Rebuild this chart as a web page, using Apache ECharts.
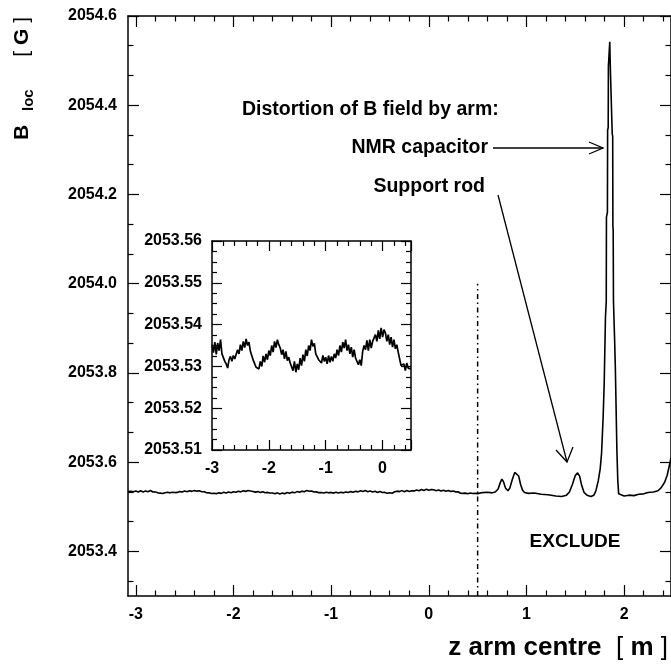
<!DOCTYPE html>
<html>
<head>
<meta charset="utf-8">
<script src="https://cdn.jsdelivr.net/npm/echarts@6/dist/echarts.min.js"></script>
<style>
html, body { margin: 0; padding: 0; background: #fff; }
#chart { width: 671px; height: 665px; }
</style>
</head>
<body>
<div id="chart"></div>
<script>
// field scan left of the exclude cut: z from -3.0 m in steps of 0.025 m
const scanStart = -3.0;
const scanStep = 0.025;
const scanField = [
    2053.5352, 2053.5333, 2053.5358, 2053.5329, 2053.5356, 2053.5338, 2053.5364, 2053.5330,
    2053.5334, 2053.5312, 2053.5306, 2053.5296,
    2053.5316, 2053.5324, 2053.5312, 2053.5326, 2053.5318, 2053.5322,
    2053.5340, 2053.5330, 2053.5352, 2053.5338, 2053.5360, 2053.5345, 2053.5366, 2053.5350,
    2053.5358, 2053.5336, 2053.5338, 2053.5315, 2053.5312, 2053.5298,
    2053.5302, 2053.5294, 2053.5312, 2053.5300,
    2053.5325, 2053.5310, 2053.5330, 2053.5316, 2053.5338, 2053.5326,
    2053.5350, 2053.5334, 2053.5360, 2053.5345, 2053.5364, 2053.5352,
    2053.5344, 2053.5328, 2053.5340, 2053.5318, 2053.5336, 2053.5314, 2053.5322, 2053.5308,
    2053.5310, 2053.5290, 2053.5312, 2053.5286, 2053.5306, 2053.5292,
    2053.5320, 2053.5302, 2053.5328, 2053.5312, 2053.5340, 2053.5325, 2053.5350, 2053.5338,
    2053.5364, 2053.5348, 2053.5355, 2053.5330, 2053.5334, 2053.5316,
    2053.5320, 2053.5308, 2053.5326, 2053.5312, 2053.5322, 2053.5306, 2053.5326, 2053.5310, 2053.5324, 2053.5312,
    2053.5330, 2053.5320, 2053.5340, 2053.5326, 2053.5350, 2053.5334, 2053.5358, 2053.5344,
    2053.5364, 2053.5338, 2053.5352, 2053.5330, 2053.5346, 2053.5322, 2053.5340, 2053.5320,
    2053.5322, 2053.5304, 2053.5316, 2053.5302,
    2053.5336, 2053.5350, 2053.5340, 2053.5362, 2053.5338, 2053.5364, 2053.5344, 2053.5360,
    2053.5356, 2053.5376, 2053.5360, 2053.5386, 2053.5366, 2053.5392, 2053.5370, 2053.5388,
    2053.5380, 2053.5360, 2053.5376, 2053.5352, 2053.5370, 2053.5346, 2053.5364, 2053.5342,
    2053.5352, 2053.5334, 2053.5336, 2053.5302, 2053.5300, 2053.5306, 2053.5290, 2053.5308, 2053.5296, 2053.5300,
    2053.5294
];

// a few readings left of -3 m, shown only on the main plot: [z, B]
const leadIn = [[-3.08, 2053.5340], [-3.05, 2053.5346], [-3.025, 2053.5336]];

// distortion region right of the cut: [z, B]
const armField = [
    [0.55, 2053.5318], [0.60, 2053.5325], [0.65, 2053.5312], [0.68, 2053.5330],
    [0.71, 2053.540], [0.73, 2053.553], [0.748, 2053.562], [0.765, 2053.556],
    [0.785, 2053.542], [0.81, 2053.536], [0.83, 2053.542], [0.855, 2053.561],
    [0.88, 2053.577], [0.90, 2053.579], [0.92, 2053.569], [0.94, 2053.550],
    [0.96, 2053.537], [0.98, 2053.532], [1.02, 2053.530], [1.08, 2053.531],
    [1.15, 2053.528], [1.22, 2053.527], [1.30, 2053.524], [1.36, 2053.523],
    [1.41, 2053.526], [1.44, 2053.533], [1.47, 2053.550], [1.50, 2053.570],
    [1.524, 2053.576], [1.545, 2053.568], [1.565, 2053.548], [1.59, 2053.532],
    [1.62, 2053.526], [1.66, 2053.523], [1.69, 2053.526], [1.71, 2053.535],
    [1.735, 2053.558], [1.755, 2053.585], [1.769, 2053.62], [1.785, 2053.70],
    [1.796, 2053.776], [1.809, 2053.925], [1.817, 2053.960], [1.819, 2054.149],
    [1.829, 2054.160], [1.831, 2054.344], [1.837, 2054.350], [1.839, 2054.487],
    [1.851, 2054.490], [1.853, 2054.542], [1.857, 2054.542], [1.858, 2054.490],
    [1.876, 2054.490], [1.878, 2054.337], [1.883, 2054.330], [1.885, 2054.128],
    [1.888, 2054.120], [1.891, 2053.960], [1.902, 2053.88], [1.91, 2053.813],
    [1.918, 2053.72], [1.926, 2053.626], [1.935, 2053.56], [1.944, 2053.529],
    [1.96, 2053.525], [2.00, 2053.524], [2.05, 2053.526], [2.10, 2053.525],
    [2.15, 2053.528], [2.20, 2053.529], [2.245, 2053.532], [2.30, 2053.533],
    [2.347, 2053.536], [2.38, 2053.543], [2.415, 2053.555], [2.44, 2053.570],
    [2.459, 2053.588], [2.48, 2053.610]
];

const excludeLine = [[0.5, 2053.3], [0.5, 2054.0]];

const xTicks = [-3, -2, -1, 0, 1, 2];
const yTicks = [2053.4, 2053.6, 2053.8, 2054.0, 2054.2, 2054.4, 2054.6];

const FONT = 'Liberation Sans, Arial, Helvetica, sans-serif';
const xRange = [-3.08, 2.48];
const yRange = [2053.3, 2054.6];

const scanData = scanField.map((v, i) => [scanStart + i * scanStep, v]);
const mainData = leadIn.concat(scanData, armField);

// minor ticks: 5 per unit along z, 3 per 0.2 G along B
const xMinor = [];
xTicks.concat([xTicks[0] - 1]).forEach(t => {
    for (let k = 1; k < 5; k++) {
        const v = t + k * 0.2;
        if (v > xRange[0] && v < xRange[1]) xMinor.push(+v.toFixed(3));
    }
});
const yMinor = [];
[yTicks[0] - 0.2].concat(yTicks).forEach(t => {
    for (let k = 1; k < 3; k++) {
        const v = t + k * 0.2 / 3;
        if (v > yRange[0] && v < yRange[1]) yMinor.push(v);
    }
});

const labelStyle = { color: '#000', fontFamily: FONT, fontWeight: 'bold', fontSize: 16 };
const frameLine = { show: true, onZero: false, lineStyle: { color: '#000', width: 1.5 } };
const noLine = { show: false, onZero: false };

function mainX (pos, values, len, labels) {
    return {
        type: 'value', gridIndex: 0, position: pos, min: xRange[0], max: xRange[1],
        axisLine: len > 8 ? frameLine : noLine,
        axisTick: { show: true, inside: true, length: len, customValues: values, lineStyle: { color: '#000', width: 1.2 } },
        axisLabel: labels ? Object.assign({ show: true, customValues: values, margin: 11 }, labelStyle) : { show: false },
        splitLine: { show: false }
    };
}
function mainY (pos, values, len, labels) {
    return {
        type: 'value', gridIndex: 0, position: pos, min: yRange[0], max: yRange[1],
        axisLine: len > 8 ? frameLine : noLine,
        axisTick: { show: true, inside: true, length: len, customValues: values, lineStyle: { color: '#000', width: 1.2 } },
        axisLabel: labels ? Object.assign({ show: true, customValues: values, margin: 11, formatter: v => v.toFixed(1) }, labelStyle) : { show: false },
        splitLine: { show: false }
    };
}
function insetAxis (dim, pos, labels) {
    const isX = dim === 'x';
    return {
        type: 'value', gridIndex: 1, position: pos,
        min: isX ? -3 : 2053.51, max: isX ? 0.5 : 2053.56, interval: isX ? 1 : 0.01,
        axisLine: frameLine,
        axisTick: { show: true, inside: true, length: 10, lineStyle: { color: '#000', width: 1.2 } },
        minorTick: { show: true, splitNumber: isX ? 5 : 4, length: 5, lineStyle: { color: '#000', width: 1.2 } },
        axisLabel: labels ? Object.assign({ show: true, margin: isX ? 11 : 10,
            formatter: v => isX ? String(Math.round(v)) : v.toFixed(2),
            showMaxLabel: !isX }, labelStyle) : { show: false },
        splitLine: { show: false }
    };
}

const chart = echarts.init(document.getElementById('chart'), null, { renderer: 'canvas' });

chart.setOption({
    backgroundColor: '#fff',
    animation: false,
    grid: [
        { left: 128, top: 16, width: 545, height: 580 },
        { left: 212, top: 241, width: 199, height: 209, backgroundColor: '#fff', show: true, borderWidth: 0 }
    ],
    xAxis: [
        mainX('bottom', xTicks, 11, true),
        mainX('top', xTicks, 11),
        mainX('bottom', xMinor, 5.5),
        mainX('top', xMinor, 5.5),
        insetAxis('x', 'bottom', true),
        insetAxis('x', 'top', false)
    ],
    yAxis: [
        mainY('left', yTicks, 11, true),
        mainY('right', yTicks, 11),
        mainY('left', yMinor, 5.5),
        mainY('right', yMinor, 5.5),
        insetAxis('y', 'left', true),
        insetAxis('y', 'right', false)
    ],
    series: [
        {
            name: 'B field', type: 'line', xAxisIndex: 0, yAxisIndex: 0,
            data: mainData, showSymbol: false, symbol: 'none',
            lineStyle: { color: '#000', width: 1.6 }
        },
        {
            name: 'exclude', type: 'line', xAxisIndex: 0, yAxisIndex: 0,
            data: excludeLine, showSymbol: false, symbol: 'none',
            lineStyle: { color: '#000', width: 1.5, type: [5, 3.5, 1.5, 3.5] }
        },
        {
            name: 'inset', type: 'line', xAxisIndex: 4, yAxisIndex: 4,
            data: scanData, showSymbol: false, symbol: 'none',
            lineStyle: { color: '#000', width: 1.7 }
        }
    ],
    graphic: [
        // y axis title
        { type: 'text', x: 22, y: 140, rotation: Math.PI / 2,
          style: { text: 'B', fill: '#000', font: 'bold 21px ' + FONT, align: 'left', verticalAlign: 'middle' } },
        { type: 'text', x: 29, y: 111, rotation: Math.PI / 2,
          style: { text: 'loc', fill: '#000', font: 'bold 15px ' + FONT, align: 'left', verticalAlign: 'middle' } },
        { type: 'text', x: 22, y: 17, rotation: Math.PI / 2,
          style: { text: '{c|[ }{a|G}{c| ]}', align: 'right', verticalAlign: 'middle',
                   rich: { a: { fontFamily: FONT, fontWeight: 'bold', fontSize: 21, fill: '#000' },
                           c: { fontFamily: FONT, fontWeight: 'normal', fontSize: 21, fill: '#000' } } } },
        // x axis title
        { type: 'text', x: 668, y: 648,
          style: { text: '{a|z arm centre}{c|  [ }{a|m}{c| ]}', align: 'right', verticalAlign: 'middle',
                   rich: { a: { fontFamily: FONT, fontWeight: 'bold', fontSize: 26, fill: '#000' },
                           c: { fontFamily: FONT, fontWeight: 'normal', fontSize: 26, fill: '#000' } } } },
        // annotations
        { type: 'text', x: 242, y: 110,
          style: { text: 'Distortion of B field by arm:', fill: '#000', font: 'bold 19.5px ' + FONT, align: 'left', verticalAlign: 'middle' } },
        { type: 'text', x: 488, y: 148,
          style: { text: 'NMR capacitor', fill: '#000', font: 'bold 19.5px ' + FONT, align: 'right', verticalAlign: 'middle' } },
        { type: 'text', x: 485, y: 187,
          style: { text: 'Support rod', fill: '#000', font: 'bold 19.5px ' + FONT, align: 'right', verticalAlign: 'middle' } },
        { type: 'text', x: 575, y: 542,
          style: { text: 'EXCLUDE', fill: '#000', font: 'bold 19px ' + FONT, align: 'center', verticalAlign: 'middle' } },
        // arrows
        { type: 'polyline', shape: { points: [[493, 148], [603, 148]] }, style: { stroke: '#000', lineWidth: 1.3, fill: null } },
        { type: 'polyline', shape: { points: [[589, 142], [603, 148], [589, 154]] }, style: { stroke: '#000', lineWidth: 1.3, fill: null } },
        { type: 'polyline', shape: { points: [[498, 195], [567, 462]] }, style: { stroke: '#000', lineWidth: 1.3, fill: null } },
        { type: 'polyline', shape: { points: [[556, 450], [567, 462], [573, 447]] }, style: { stroke: '#000', lineWidth: 1.3, fill: null } }
    ]
});
</script>
</body>
</html>
